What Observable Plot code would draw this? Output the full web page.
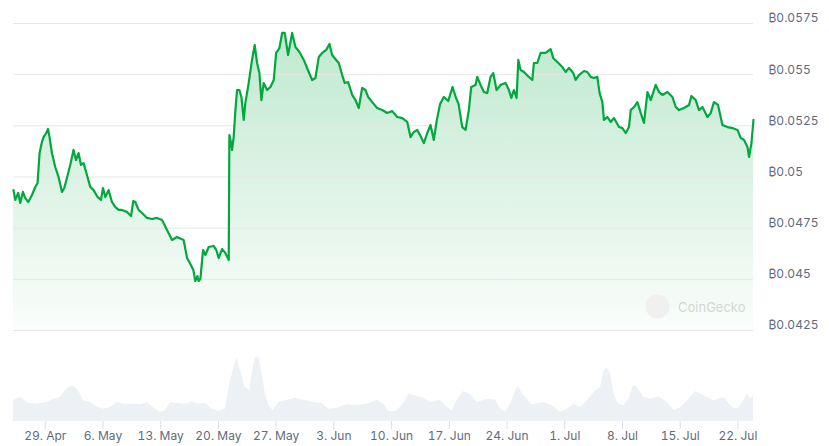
<!DOCTYPE html>
<html><head><meta charset="utf-8">
<script src="https://cdn.jsdelivr.net/npm/d3@7"></script>
<script src="https://cdn.jsdelivr.net/npm/@observablehq/plot@0.6"></script>
<style>
body{margin:0;background:#fff;font-family:Inter,"Noto Sans",sans-serif;}
#chart{position:relative;width:829px;height:446px;overflow:hidden;background:#fff}
#chart svg{display:block;position:absolute;left:0}
</style></head><body><div id="chart"></div>
<script>
// day offsets are days since 29 Apr 2024 (UTC)
const startDay = Date.UTC(2024, 3, 29);

const priceSeries = [
[-3.85,0.04936],[-3.64,0.04888],[-3.28,0.04922],[-3.03,0.04873],[-2.71,0.04927],[-2.43,0.04897],[-2.06,0.04878],[-1.61,0.04912],[-1.21,0.04951],[-0.93,0.04971],[-0.69,0.05117],[-0.40,0.05171],[-0.21,0.05195],[0.12,0.05215],[0.33,0.05235],[0.52,0.05195],[0.81,0.05117],[1.21,0.05049],[1.61,0.05],[2.03,0.04927],[2.31,0.04946],[2.63,0.04995],[3.03,0.05059],[3.43,0.05132],[3.73,0.05083],[4.04,0.05117],[4.33,0.05059],[4.65,0.05068],[5.06,0.0501],[5.46,0.04951],[5.86,0.04936],[6.35,0.04902],[6.76,0.04888],[7.00,0.04946],[7.28,0.04902],[7.68,0.04936],[8.09,0.04878],[8.50,0.04853],[8.90,0.04839],[9.31,0.04839],[9.92,0.04829],[10.40,0.04809],[10.68,0.04883],[10.92,0.04878],[11.32,0.04839],[11.74,0.04824],[12.34,0.048],[12.95,0.04795],[13.56,0.048],[14.16,0.0479],[14.77,0.04741],[15.38,0.04692],[15.98,0.04707],[16.78,0.04692],[17.20,0.04604],[17.60,0.04575],[17.96,0.04546],[18.20,0.04492],[18.45,0.04516],[18.60,0.04492],[18.81,0.04502],[19.14,0.04643],[19.42,0.04619],[19.82,0.04658],[20.42,0.04663],[20.75,0.04643],[21.03,0.04604],[21.44,0.04648],[21.84,0.04629],[22.25,0.04594],[22.33,0.05205],[22.51,0.05171],[22.66,0.05132],[22.85,0.05195],[23.06,0.05327],[23.26,0.05425],[23.54,0.05425],[23.79,0.05391],[24.07,0.05279],[24.27,0.05362],[24.67,0.05459],[25.08,0.05572],[25.40,0.05645],[25.69,0.05557],[25.97,0.05508],[26.21,0.05376],[26.49,0.05459],[26.90,0.05425],[27.31,0.0544],[27.71,0.05474],[28.00,0.05606],[28.40,0.0563],[28.73,0.05704],[29.04,0.05704],[29.45,0.05596],[29.94,0.05704],[30.34,0.05635],[30.83,0.05611],[31.35,0.05572],[31.95,0.05513],[32.37,0.05474],[32.77,0.05484],[33.17,0.05586],[33.58,0.05606],[34.07,0.05621],[34.47,0.0565],[34.79,0.05596],[35.28,0.05572],[35.60,0.05557],[36.01,0.05498],[36.32,0.05459],[36.73,0.05464],[37.22,0.05401],[37.62,0.05376],[38.02,0.05337],[38.43,0.05435],[38.83,0.05425],[39.16,0.05391],[39.65,0.05366],[40.25,0.05337],[40.86,0.05327],[41.47,0.05313],[42.08,0.05322],[42.68,0.05293],[43.29,0.05288],[43.90,0.05269],[44.30,0.05195],[44.70,0.0522],[45.11,0.0523],[45.51,0.052],[45.91,0.05166],[46.33,0.05215],[46.72,0.05254],[47.12,0.05181],[47.49,0.05279],[47.88,0.05357],[48.34,0.05391],[48.87,0.05371],[49.39,0.0544],[49.82,0.05386],[50.12,0.05357],[50.57,0.05244],[50.97,0.0523],[51.37,0.05327],[51.66,0.0544],[52.18,0.0545],[52.39,0.05489],[52.79,0.0545],[53.19,0.05415],[53.60,0.0541],[54.00,0.05489],[54.33,0.05508],[54.73,0.05425],[55.22,0.0545],[55.83,0.05459],[56.23,0.05425],[56.52,0.05386],[56.83,0.05425],[57.16,0.05386],[57.37,0.05572],[57.65,0.05523],[58.05,0.05513],[58.65,0.05489],[59.07,0.05474],[59.26,0.05557],[59.67,0.05557],[60.07,0.05606],[60.68,0.05606],[61.29,0.05625],[61.61,0.05581],[62.10,0.05562],[62.71,0.05537],[63.11,0.05513],[63.51,0.05533],[64.04,0.05508],[64.32,0.05474],[64.72,0.05498],[65.33,0.05518],[65.74,0.05513],[66.14,0.05489],[66.54,0.05484],[66.95,0.05489],[67.23,0.0541],[67.56,0.05366],[67.75,0.05279],[68.17,0.05293],[68.57,0.05269],[68.97,0.05288],[69.58,0.05244],[69.99,0.05239],[70.39,0.05215],[70.79,0.05244],[71.00,0.05327],[71.40,0.05342],[71.81,0.05366],[72.21,0.05313],[72.61,0.05264],[73.03,0.05415],[73.43,0.05376],[74.03,0.0545],[74.43,0.05415],[74.84,0.05401],[75.45,0.05415],[76.06,0.05391],[76.46,0.05342],[76.86,0.05327],[77.46,0.05337],[78.07,0.05352],[78.36,0.05396],[78.88,0.05376],[79.28,0.05327],[79.70,0.05342],[80.30,0.05293],[80.70,0.05313],[81.10,0.05366],[81.59,0.05352],[82.12,0.05254],[82.73,0.05244],[83.34,0.05239],[83.94,0.0523],[84.34,0.05191],[84.74,0.05181],[85.16,0.05147],[85.35,0.05098],[85.64,0.05166],[85.89,0.05279]
];

// relative trading volume (arbitrary units)
const volumeSeries = [
[-3.85,20.7],[-3.03,24],[-2.03,18],[-1.01,17.3],[0.21,19],[1.01,22.3],[1.82,24],[2.43,30.7],[2.83,34],[3.43,35.7],[4.04,30.7],[4.65,20.7],[5.46,19],[6.27,14.7],[7.08,12.3],[7.89,14],[8.70,19],[9.50,17.3],[10.72,17.3],[11.53,16.7],[12.34,19],[13.14,14],[13.96,9],[14.56,10.7],[15.17,19],[15.98,18],[17.20,17.3],[17.80,20],[18.60,17.3],[19.42,18.3],[20.23,12.3],[21.03,10],[21.84,12.3],[22.37,37.3],[22.78,50.7],[23.26,64],[23.67,50.7],[24.27,34],[24.79,30.7],[25.08,47.3],[25.49,64],[25.89,64.7],[26.30,47.3],[26.70,27.3],[27.10,15.7],[27.63,10.7],[28.31,19],[29.33,21.3],[30.34,23.3],[31.35,21.3],[32.56,19],[33.58,18],[34.38,12.3],[35.40,13.3],[36.61,16.7],[37.83,15.7],[39.04,17.3],[40.25,21.3],[41.06,17.3],[41.66,10],[42.48,10],[43.29,15.7],[44.09,27.3],[44.90,25.7],[45.91,23.3],[46.72,19],[47.94,21.3],[48.75,14],[49.36,10.7],[50.16,24],[50.76,30],[51.58,27.3],[52.39,19],[53.60,22.3],[54.61,21.3],[55.22,12.3],[55.83,9],[56.43,17.3],[57.32,35.7],[58.05,25.7],[59.07,16.7],[60.47,19],[61.49,15.7],[62.50,9],[63.31,12.3],[64.11,17.3],[64.93,14],[65.74,20.7],[66.75,30.7],[67.35,34],[67.75,50.7],[68.17,53.3],[68.57,47.3],[68.97,27.3],[69.58,17.3],[70.18,15.7],[70.79,22.3],[71.32,35.7],[71.81,34],[72.61,24],[73.42,22.3],[74.43,24.7],[75.45,19],[76.25,10.7],[77.06,14],[77.88,20.7],[78.88,30],[79.89,25.7],[81.10,20.7],[82.32,24],[83.34,14],[83.94,12.3],[84.55,19],[85.16,27.3],[85.56,22.3],[85.89,25.7]
];

const yTicks = [0.0425, 0.045, 0.0475, 0.05, 0.0525, 0.055, 0.0575];
const xTickDays = [0, 7, 14, 21, 28, 35, 42, 49, 56, 63, 70, 77, 84];
const xTickLabels = ["29. Apr","6. May","13. May","20. May","27. May","3. Jun","10. Jun","17. Jun","24. Jun","1. Jul","8. Jul","15. Jul","22. Jul"];
const currencySymbol = "\u20BF";

const toDate = d => new Date(startDay + d * 864e5);
const prices = priceSeries.map(([d, v]) => ({date: toDate(d), price: v}));
const vols = volumeSeries.map(([d, v]) => ({date: toDate(d), volume: v}));
const xDomain = [prices[0].date, prices[prices.length - 1].date];
const xTicks = xTickDays.map(toDate);

const gradientDefs = () => {
  const ns = "http://www.w3.org/2000/svg";
  const defs = document.createElementNS(ns, "defs");
  defs.innerHTML = `<linearGradient id="pg" x1="0" y1="0" x2="0" y2="1">
    <stop offset="0%" stop-color="#00a83e" stop-opacity="0.25"/>
    <stop offset="100%" stop-color="#00a83e" stop-opacity="0.02"/>
  </linearGradient>`;
  return defs;
};

const font = {fontFamily: "Inter, 'Noto Sans', sans-serif", fontSize: "12px", background: "transparent", overflow: "visible"};

const topPlot = Plot.plot({
  width: 829, height: 340,
  marginLeft: 13, marginRight: 76, marginTop: 23, marginBottom: 10,
  style: font,
  x: {type: "utc", domain: xDomain, axis: null},
  y: {domain: [0.0425, 0.0575], axis: null},
  marks: [
    gradientDefs,
    Plot.areaY(prices, {x: "date", y1: 0.0425, y2: "price", fill: "url(#pg)"}),
    Plot.gridY(yTicks, {stroke: "#e6e6e6", strokeOpacity: 1}),
    Plot.lineY(prices, {x: "date", y: "price", stroke: "#00a83e", strokeWidth: 2.2, strokeLinejoin: "round"}),
    Plot.axisY(yTicks, {anchor: "right", label: null, tickSize: 0, tickPadding: 15, dy: -5, textAnchor: "start",
      fill: "#5f6b7d", tickFormat: d => currencySymbol + d}),
    Plot.dot([0], {frameAnchor: "bottom-right", dx: -96, dy: -24, r: 12, fill: "#f0f0f0"}),
    Plot.text(["CoinGecko"], {frameAnchor: "bottom-right", dx: -8, dy: -23, textAnchor: "end",
      lineAnchor: "middle", fill: "#d6d6d6", fontSize: 13})
  ]
});
topPlot.style.top = "0px";

const bottomPlot = Plot.plot({
  width: 829, height: 106,
  marginLeft: 13, marginRight: 76, marginTop: 11, marginBottom: 25,
  style: font,
  x: {type: "utc", domain: xDomain, axis: null},
  y: {domain: [0, 70], axis: null},
  marks: [
    Plot.areaY(vols, {x: "date", y: "volume", fill: "#edf0f4"}),
    Plot.axisX(xTicks, {anchor: "bottom", label: null, tickSize: 8, tickPadding: 2, stroke: "#d8dee9", fill: "#5f6b7d",
      tickFormat: d => xTickLabels[xTicks.findIndex(t => +t === +d)]})
  ]
});
bottomPlot.style.top = "340px";

const chart = document.getElementById("chart");
chart.appendChild(topPlot);
chart.appendChild(bottomPlot);
</script></body></html>
